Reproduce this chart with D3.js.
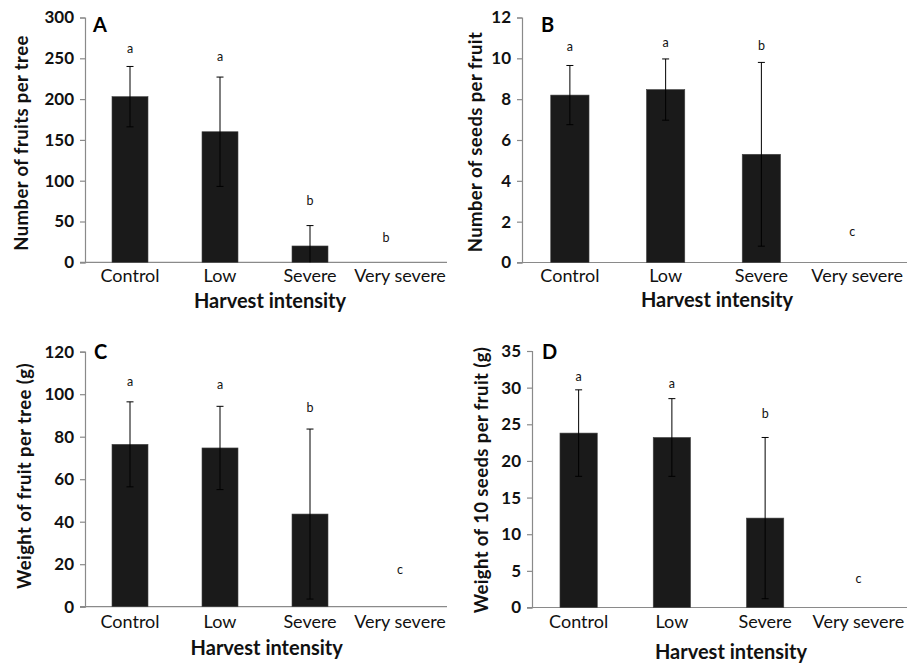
<!DOCTYPE html>
<html>
<head>
<meta charset="utf-8">
<script src="https://cdn.jsdelivr.net/npm/d3@7"></script>
<style>
  html, body { margin: 0; padding: 0; background: #fff; }
  svg { display: block; }
  text { font-family: Lato, "Open Sans", sans-serif; }
</style>
</head>
<body>
<svg id="chart" width="913" height="664"></svg>
<script>
// ---- data ----
const categories = ["Control", "Low", "Severe", "Very severe"];

const fruitsMean = [203, 160, 20, 0];
const fruitsErr = [37, 67, 25, 0];
const fruitsLetters = ["a", "a", "b", "b"];
const fruitsLetterY = [262, 252, 75, 30];
const fruitsTicks = [0, 50, 100, 150, 200, 250, 300];

const seedsMean = [8.2, 8.47, 5.3, 0];
const seedsErr = [1.45, 1.5, 4.5, 0];
const seedsLetters = ["a", "a", "b", "c"];
const seedsLetterY = [10.56, 10.76, 10.6, 1.5];
const seedsTicks = [0, 2, 4, 6, 8, 10, 12];

const fruitWeightMean = [76.4, 74.7, 43.6, 0];
const fruitWeightErr = [20, 19.6, 40, 0];
const fruitWeightLetters = ["a", "a", "b", "c"];
const fruitWeightLetterY = [105.9, 104.3, 93.6, 17.3];
const fruitWeightTicks = [0, 20, 40, 60, 80, 100, 120];

const seedWeightMean = [23.8, 23.2, 12.2, 0];
const seedWeightErr = [5.9, 5.3, 11, 0];
const seedWeightLetters = ["a", "a", "b", "c"];
const seedWeightLetterY = [31.5, 30.6, 26.4, 3.96];
const seedWeightTicks = [0, 5, 10, 15, 20, 25, 30, 35];

const panelLabels = ["A", "B", "C", "D"];
const yTitles = ["Number of fruits per tree", "Number of seeds per fruit",
                 "Weight of fruit per tree (g)", "Weight  of 10 seeds per fruit (g)"];
const xTitle = "Harvest intensity";

// ---- layout ----
const panels = [
  { label: panelLabels[0], mean: fruitsMean, err: fruitsErr, letters: fruitsLetters, letterY: fruitsLetterY,
    ticks: fruitsTicks, yTitle: yTitles[0],
    x0: 85, x1: 445, y0: 262.3, y1: 17.5, ymax: 300,
    yTitleX: 22, yTitleY: 143, xTitleX: 270, xTitleY: 307.5, catDy: 19.5,
    labX: 93, labY: 32, letterDx: [0, 0, 0, -14] },
  { label: panelLabels[1], mean: seedsMean, err: seedsErr, letters: seedsLetters, letterY: seedsLetterY,
    ticks: seedsTicks, yTitle: yTitles[1],
    x0: 522, x1: 905, y0: 262.5, y1: 17.5, ymax: 12,
    yTitleX: 475.5, yTitleY: 142, xTitleX: 717, xTitleY: 307, catDy: 19,
    labX: 541, labY: 32, letterDx: [0, 0, 0, -5] },
  { label: panelLabels[2], mean: fruitWeightMean, err: fruitWeightErr, letters: fruitWeightLetters, letterY: fruitWeightLetterY,
    ticks: fruitWeightTicks, yTitle: yTitles[2],
    x0: 85, x1: 445, y0: 606.7, y1: 351.7, ymax: 120,
    yTitleX: 25, yTitleY: 476, xTitleX: 266.7, xTitleY: 655, catDy: 21,
    labX: 94, labY: 359, letterDx: [0, 0, 0, 0] },
  { label: panelLabels[3], mean: seedWeightMean, err: seedWeightErr, letters: seedWeightLetters, letterY: seedWeightLetterY,
    ticks: seedWeightTicks, yTitle: yTitles[3],
    x0: 532, x1: 905, y0: 607.5, y1: 351, ymax: 35,
    yTitleX: 482, yTitleY: 480, xTitleX: 731, xTitleY: 659, catDy: 20.5,
    labX: 542, labY: 359, letterDx: [0, 0, 0, 0] }
];

const svg = d3.select("#chart");
const axisColor = "#8a8a8a";
const barColor = "#1a1a1a";

panels.forEach(p => {
  const g = svg.append("g");
  const x = d3.scaleBand().domain(categories).range([p.x0, p.x1]).paddingInner(0.6).paddingOuter(0.3);
  const y = d3.scaleLinear().domain([0, p.ymax]).range([p.y0, p.y1]);
  const xc = c => x(c) + x.bandwidth() / 2;

  // y axis
  const yAxis = d3.axisLeft(y).tickValues(p.ticks).tickSize(5).tickPadding(6).tickFormat(d3.format("d"));
  const ya = g.append("g").attr("transform", `translate(${p.x0},0)`).call(yAxis);
  ya.select(".domain").attr("stroke", axisColor).attr("stroke-width", 1.2);
  ya.selectAll(".tick line").attr("stroke", axisColor).attr("stroke-width", 1.2);
  ya.selectAll(".tick text").attr("fill", "#111").attr("font-size", 17).attr("font-weight", 700)
    .attr("font-family", "Lato, sans-serif");

  // x axis
  const xAxis = d3.axisBottom(x).tickSize(0).tickPadding(0);
  const xa = g.append("g").attr("transform", `translate(0,${p.y0})`).call(xAxis);
  xa.select(".domain").attr("stroke", axisColor).attr("stroke-width", 1.2)
    .attr("d", `M${p.x0 - 5},0H${p.x1 + 2}`);
  xa.selectAll(".tick text").attr("fill", "#111").attr("font-size", 18).attr("font-weight", 400)
    .attr("font-family", "Lato, sans-serif").attr("dy", null).attr("y", p.catDy);

  // bars
  g.selectAll("rect.bar").data(categories).join("rect").attr("class", "bar")
    .attr("x", c => x(c)).attr("width", x.bandwidth())
    .attr("y", (c, i) => y(p.mean[i])).attr("height", (c, i) => y(0) - y(p.mean[i]))
    .attr("fill", barColor).attr("stroke", "#444").attr("stroke-width", 0.6)
    .style("display", (c, i) => p.mean[i] > 0 ? null : "none");

  // error bars
  const capW = 3.5;
  categories.forEach((c, i) => {
    if (p.err[i] <= 0) return;
    const hi = p.mean[i] + p.err[i];
    const lo = Math.max(0, p.mean[i] - p.err[i]);
    const cx = xc(c);
    g.append("line").attr("x1", cx).attr("x2", cx).attr("y1", y(hi)).attr("y2", y(lo))
      .attr("stroke", "#000").attr("stroke-width", 1);
    g.append("line").attr("x1", cx - capW).attr("x2", cx + capW).attr("y1", y(hi)).attr("y2", y(hi))
      .attr("stroke", "#000").attr("stroke-width", 1);
    if (lo > 0) {
      g.append("line").attr("x1", cx - capW).attr("x2", cx + capW).attr("y1", y(lo)).attr("y2", y(lo))
        .attr("stroke", "#000").attr("stroke-width", 1);
    }
  });

  // significance letters
  g.selectAll("text.sig").data(categories).join("text").attr("class", "sig")
    .attr("x", (c, i) => xc(c) + p.letterDx[i]).attr("y", (c, i) => y(p.letterY[i]))
    .attr("dy", "0.35em").attr("text-anchor", "middle")
    .attr("font-size", 12.5).attr("fill", "#111")
    .text((c, i) => p.letters[i]);

  // y title
  g.append("text").attr("transform", `translate(${p.yTitleX},${p.yTitleY}) rotate(-90)`)
    .attr("text-anchor", "middle").attr("dy", "0.35em")
    .attr("font-size", 18.5).attr("font-weight", 700).attr("fill", "#111")
    .attr("letter-spacing", 0.4)
    .text(p.yTitle);

  // x title
  g.append("text").attr("x", p.xTitleX).attr("y", p.xTitleY)
    .attr("text-anchor", "middle").attr("font-size", 20).attr("font-weight", 700).attr("fill", "#111")
    .text(xTitle);

  // panel label
  g.append("text").attr("x", p.labX).attr("y", p.labY)
    .attr("font-family", "'Liberation Sans', Arial, sans-serif")
    .attr("font-size", 20).attr("font-weight", 700).attr("fill", "#000")
    .text(p.label);
});
</script>
</body>
</html>
